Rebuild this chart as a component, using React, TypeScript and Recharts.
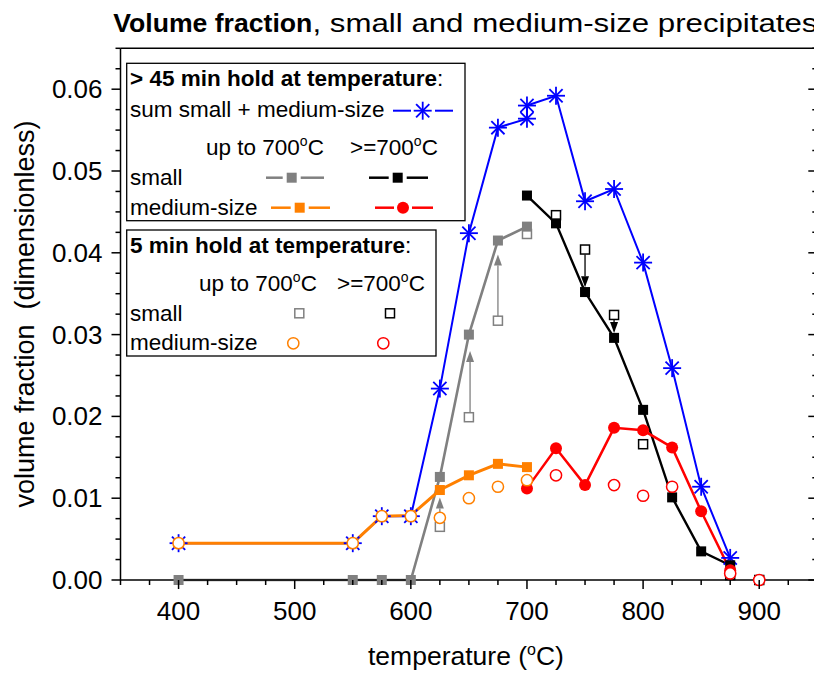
import React from "react";
import { ComposedChart, Line, XAxis, YAxis, ReferenceLine } from "recharts";

// ---- data ----
// > 45 min hold at temperature
const tempsLow = [400, 550, 575, 600, 625, 650, 675, 700];
const tempsHigh = [700, 725, 750, 775, 800, 825, 850, 875];
const smallLow45 = [0, 0, 0, 0, 0.0126, 0.03, 0.0415, 0.0432];
const smallHigh45 = [0.047, 0.0436, 0.0352, 0.0296, 0.0208, 0.0101, 0.0035, 0.0018];
const mediumLow45 = [0.0045, 0.0045, 0.0078, 0.0079, 0.011, 0.0128, 0.0142, 0.0138];
const mediumHigh45 = [0.0112, 0.0161, 0.0116, 0.0186, 0.0183, 0.0162, 0.0084, 0.0012];
const sumTemps = [400, 550, 575, 600, 625, 650, 675, 700, 700, 725, 750, 775, 800, 825, 850, 875];
const sum45 = [0.0045, 0.0045, 0.0078, 0.0078, 0.0234, 0.0424, 0.0553, 0.0564, 0.058, 0.0592, 0.0463, 0.0478, 0.0388, 0.0259, 0.0114, 0.0027];

// 5 min hold at temperature
const smallLow5Temps = [625, 650, 675, 700];
const smallLow5 = [0.0065, 0.0199, 0.0317, 0.0423];
const smallHigh5Temps = [725, 750, 775, 800, 875, 900];
const smallHigh5 = [0.0446, 0.0404, 0.0324, 0.0166, 0.0006, 0];
const mediumLow5 = [0.0045, 0.0045, 0.0078, 0.0078, 0.0076, 0.01, 0.0114, 0.0122];
const mediumHigh5Temps = [725, 775, 800, 825, 875, 900];
const mediumHigh5 = [0.0128, 0.0116, 0.0103, 0.0114, 0.0008, 0];

// arrows 5 min -> 45 min
const arrowTemps = [625, 651, 675, 750, 775];
const arrowFrom = [0.0069, 0.0205, 0.0322, 0.0398, 0.0318];
const arrowTo = [0.0101, 0.028, 0.0398, 0.0358, 0.0302];

// axes
const xTickLabels = [400, 500, 600, 700, 800, 900];
const yTickLabels = ["0.00", "0.01", "0.02", "0.03", "0.04", "0.05", "0.06"];
const xTicks = Array.from({ length: 25 }, (_, i) => 350 + i * 25);
const yTicks = Array.from({ length: 27 }, (_, i) => Math.round(i * 25) / 10000);

const FONT = "'Liberation Sans', Arial, Helvetica, sans-serif";
const BLUE = "#0000ff";
const GRAY = "#808080";
const ORANGE = "#ff8000";
const RED = "#ff0000";

const zip = (ts: number[], vs: number[]) => ts.map((t, i) => ({ t, v: vs[i] }));

const isMajorY = (v: number) => Math.abs(v * 100 - Math.round(v * 100)) < 1e-6;

function StarShape({ cx, cy }: { cx: number; cy: number }) {
  const r = 9, d = 6.6;
  return (
    <g stroke={BLUE} strokeWidth={1.8}>
      <line x1={cx - r} y1={cy} x2={cx + r} y2={cy} />
      <line x1={cx} y1={cy - r} x2={cx} y2={cy + r} />
      <line x1={cx - d} y1={cy - d} x2={cx + d} y2={cy + d} />
      <line x1={cx - d} y1={cy + d} x2={cx + d} y2={cy - d} />
    </g>
  );
}

const starDot = (p: any) => (p.cx == null ? null : <StarShape key={p.index} cx={p.cx} cy={p.cy} />);

const squareDot = (color: string, open: boolean) => (p: any) => {
  if (p.cx == null) return null;
  const s = open ? 9 : 10;
  return (
    <rect key={p.index} x={p.cx - s / 2} y={p.cy - s / 2} width={s} height={s}
      fill={open ? "#fff" : color} stroke={open ? color : "none"} strokeWidth={open ? 1.5 : 0} />
  );
};

const circleDot = (color: string, open: boolean) => (p: any) => {
  if (p.cx == null) return null;
  return (
    <circle key={p.index} cx={p.cx} cy={p.cy} r={open ? 5.6 : 6}
      fill={open ? "#fff" : color} stroke={open ? color : "none"} strokeWidth={open ? 1.5 : 0} />
  );
};

function BottomTick({ x, y, payload }: any) {
  const v = payload.value;
  const major = v % 100 === 0;
  return (
    <g>
      <line x1={x} x2={x} y1={y} y2={y + (major ? 9 : 5)} stroke="#000" strokeWidth={1.5} />
      {major && xTickLabels.includes(v) && (
        <text x={x} y={y + 40} textAnchor="middle" fontSize={26} fontFamily={FONT} fill="#000">{v}</text>
      )}
    </g>
  );
}

function TopTick({ x, y, payload }: any) {
  const major = payload.value % 100 === 0;
  return <line x1={x} x2={x} y1={y} y2={y + (major ? 9 : 5)} stroke="#000" strokeWidth={1.5} />;
}

function LeftTick({ x, y, payload }: any) {
  const v = payload.value;
  const major = isMajorY(v);
  return (
    <g>
      <line x1={x - (major ? 9 : 5)} x2={x} y1={y} y2={y} stroke="#000" strokeWidth={1.5} />
      {major && (
        <text x={x - 18} y={y + 9} textAnchor="end" fontSize={26} fontFamily={FONT} fill="#000">
          {yTickLabels[Math.round(v * 100)]}
        </text>
      )}
    </g>
  );
}

function RightTick({ x, y, payload }: any) {
  const major = isMajorY(payload.value);
  return <line x1={x - (major ? 9 : 5)} x2={x} y1={y} y2={y} stroke="#000" strokeWidth={1.5} />;
}

function ArrowShape(props: any) {
  const { x1, y1, x2, y2, stroke } = props;
  const dir = y2 > y1 ? 1 : -1;
  const hl = 11, hw = 4;
  return (
    <g>
      <line x1={x1} y1={y1} x2={x2} y2={y2 - dir * hl} stroke={stroke} strokeWidth={1.3} />
      <polygon points={`${x2},${y2} ${x2 - hw},${y2 - dir * hl} ${x2 + hw},${y2 - dir * hl}`} fill={stroke} />
    </g>
  );
}

function Deg({ t }: { t: string }) {
  return (
    <>
      <tspan>{t}</tspan>
      <tspan dy={-9} fontSize={14}>o</tspan>
      <tspan dy={9}>C</tspan>
    </>
  );
}

function SampleLine({ x1, x2, xm, y, color, marker }: any) {
  return (
    <g>
      <line x1={x1} x2={xm - 9} y1={y} y2={y} stroke={color} strokeWidth={2.5} />
      <line x1={xm + 9} x2={x2} y1={y} y2={y} stroke={color} strokeWidth={2.5} />
      {marker}
    </g>
  );
}

function Overlay() {
  const t = { fontFamily: FONT, fontSize: 22.5, fill: "#000" };
  return (
    <svg width={830} height={680} style={{ position: "absolute", left: 0, top: 0, pointerEvents: "none" }}>
      <text x={113.3} y={31.7} fontSize={26.5} fontFamily={FONT} fill="#000" fontWeight="bold"
        textLength={199} lengthAdjust="spacingAndGlyphs">Volume fraction</text>
      <text x={312.5} y={31.7} fontSize={26.5} fontFamily={FONT} fill="#000"
        textLength={505} lengthAdjust="spacingAndGlyphs">, small and medium-size precipitates</text>
      <text x={368} y={665} fontSize={26.5} fontFamily={FONT} fill="#000">
        temperature (<tspan dy={-10} fontSize={16}>o</tspan><tspan dy={10}>C)</tspan>
      </text>
      <text transform="translate(34 314) rotate(-90)" textAnchor="middle" fontSize={27} fontFamily={FONT}
        fill="#000" style={{ whiteSpace: "pre" }}>
        {"volume fraction  (dimensionless)"}
      </text>

      {/* box 1 */}
      <rect x={126.7} y={63.3} width={338.3} height={157.4} fill="#fff" stroke="#000" strokeWidth={1.3} />
      <text x={130} y={86} {...t}><tspan fontWeight="bold">{"> 45 min hold at temperature"}</tspan>:</text>
      <text x={130} y={116.7} {...t}>sum small + medium-size</text>
      <g>
        <line x1={393} x2={411} y1={110.7} y2={110.7} stroke={BLUE} strokeWidth={2} />
        <line x1={435} x2={453} y1={110.7} y2={110.7} stroke={BLUE} strokeWidth={2} />
        <StarShape cx={422.7} cy={110.7} />
      </g>
      <text x={206} y={155} {...t}><Deg t="up to 700" /></text>
      <text x={350} y={155} {...t}><Deg t=">=700" /></text>
      <text x={130} y={185} {...t}>small</text>
      <SampleLine x1={266} x2={324} xm={291.7} y={177.7} color={GRAY}
        marker={<rect x={286.7} y={172.7} width={10} height={10} fill={GRAY} />} />
      <SampleLine x1={369} x2={428} xm={397.7} y={177.7} color="#000"
        marker={<rect x={392.7} y={172.7} width={10} height={10} fill="#000" />} />
      <text x={130} y={215} {...t}>medium-size</text>
      <SampleLine x1={271} x2={330} xm={299.7} y={207.7} color={ORANGE}
        marker={<rect x={294.7} y={202.7} width={10} height={10} fill={ORANGE} />} />
      <SampleLine x1={375} x2={433} xm={403} y={207.7} color={RED}
        marker={<circle cx={403} cy={207.7} r={6} fill={RED} />} />

      {/* box 2 */}
      <rect x={126.7} y={230} width={309.3} height={126} fill="#fff" stroke="#000" strokeWidth={1.3} />
      <text x={130} y={252.7} {...t}><tspan fontWeight="bold">5 min hold at temperature</tspan>:</text>
      <text x={199} y={290.7} {...t}><Deg t="up to 700" /></text>
      <text x={337} y={290.7} {...t}><Deg t=">=700" /></text>
      <text x={130} y={320.7} {...t}>small</text>
      <rect x={294.8} y={308.8} width={9} height={9} fill="#fff" stroke={GRAY} strokeWidth={1.5} />
      <rect x={385.5} y={308.8} width={9} height={9} fill="#fff" stroke="#000" strokeWidth={1.5} />
      <text x={130} y={350} {...t}>medium-size</text>
      <circle cx={293.3} cy={343.3} r={5.6} fill="#fff" stroke={ORANGE} strokeWidth={1.5} />
      <circle cx={383.3} cy={343.3} r={5.6} fill="#fff" stroke={RED} strokeWidth={1.5} />
    </svg>
  );
}

export default function App() {
  return (
    <div style={{ position: "fixed", left: 0, top: 0, width: 814, height: 680, overflow: "hidden", background: "#fff" }}>
      <ComposedChart width={830} height={680} margin={{ top: 38.3, right: 2.7, left: 60.5, bottom: 60 }}>
        <XAxis xAxisId="b" dataKey="t" type="number" domain={[350, 950]} ticks={xTicks} interval={0}
          height={40} tickSize={0} tickMargin={0} tickLine={false} tick={<BottomTick />}
          axisLine={{ stroke: "#000", strokeWidth: 1.5 }} />
        <XAxis xAxisId="top" orientation="top" type="number" domain={[350, 950]} allowDataOverflow ticks={xTicks}
          interval={0} height={10} tickSize={0} tickMargin={0} tickLine={false} tick={<TopTick />}
          axisLine={{ stroke: "#000", strokeWidth: 1.5 }} />
        <YAxis yAxisId="l" type="number" domain={[0, 0.065]} ticks={yTicks} interval={0} width={60}
          tickSize={0} tickMargin={0} tickLine={false} tick={<LeftTick />}
          axisLine={{ stroke: "#000", strokeWidth: 1.5 }} />
        <YAxis yAxisId="r" orientation="right" type="number" domain={[0, 0.065]} allowDataOverflow ticks={yTicks}
          interval={0} width={10} tickSize={0} tickMargin={0} tickLine={false} tick={<RightTick />}
          axisLine={{ stroke: "#000", strokeWidth: 1.5 }} />

        {/* 5 min, small (open squares) under the 45 min series */}
        <Line xAxisId="b" yAxisId="l" data={zip(smallLow5Temps, smallLow5)} dataKey="v" stroke="none"
          dot={squareDot(GRAY, true)} activeDot={false} isAnimationActive={false} />
        <Line xAxisId="b" yAxisId="l" data={zip(smallHigh5Temps, smallHigh5)} dataKey="v" stroke="none"
          dot={squareDot("#000", true)} activeDot={false} isAnimationActive={false} />

        {/* 45 min */}
        <Line xAxisId="b" yAxisId="l" data={zip(sumTemps, sum45)} dataKey="v" stroke={BLUE} strokeWidth={2}
          dot={starDot} activeDot={false} isAnimationActive={false} />
        <Line xAxisId="b" yAxisId="l" data={zip(tempsLow, smallLow45)} dataKey="v" stroke={GRAY} strokeWidth={2.6}
          dot={squareDot(GRAY, false)} activeDot={false} isAnimationActive={false} />
        <Line xAxisId="b" yAxisId="l" data={zip(tempsHigh, smallHigh45)} dataKey="v" stroke="#000" strokeWidth={2.4}
          dot={squareDot("#000", false)} activeDot={false} isAnimationActive={false} />
        <Line xAxisId="b" yAxisId="l" data={zip(tempsLow, mediumLow45)} dataKey="v" stroke={ORANGE} strokeWidth={3}
          dot={squareDot(ORANGE, false)} activeDot={false} isAnimationActive={false} />
        <Line xAxisId="b" yAxisId="l" data={zip(tempsHigh, mediumHigh45)} dataKey="v" stroke={RED} strokeWidth={2.5}
          dot={circleDot(RED, false)} activeDot={false} isAnimationActive={false} />

        {/* 5 min, medium (open circles) */}
        <Line xAxisId="b" yAxisId="l" data={zip(tempsLow, mediumLow5)} dataKey="v" stroke="none"
          dot={circleDot(ORANGE, true)} activeDot={false} isAnimationActive={false} />
        <Line xAxisId="b" yAxisId="l" data={zip(mediumHigh5Temps, mediumHigh5)} dataKey="v" stroke="none"
          dot={circleDot(RED, true)} activeDot={false} isAnimationActive={false} />

        {arrowTemps.map((tt, i) => (
          <ReferenceLine key={i} xAxisId="b" yAxisId="l"
            segment={[{ x: tt, y: arrowFrom[i] }, { x: tt, y: arrowTo[i] }]}
            stroke={tt < 700 ? GRAY : "#000"} shape={ArrowShape} />
        ))}
      </ComposedChart>
      <Overlay />
    </div>
  );
}
